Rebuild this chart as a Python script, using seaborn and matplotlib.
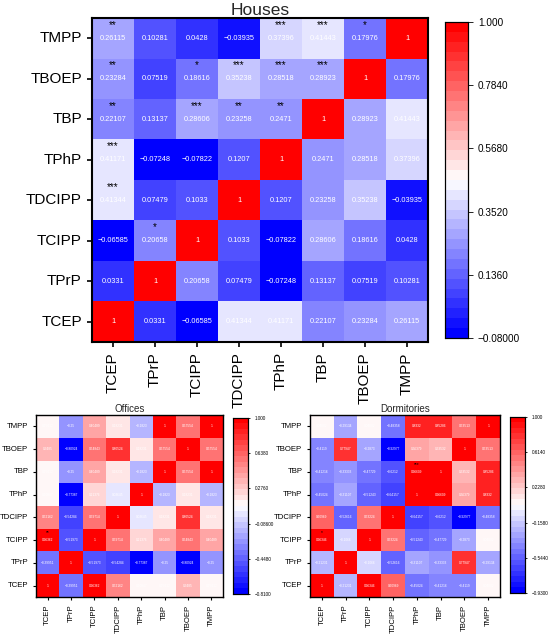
import numpy as np
import pandas as pd
import matplotlib
matplotlib.use('Agg')
import matplotlib.pyplot as plt
from matplotlib.colors import LinearSegmentedColormap
import seaborn as sns

sns.set_style('white')
plt.rcParams['font.family'] = ['Liberation Sans', 'DejaVu Sans']

# compounds, x axis order (left to right); y axis is the reverse (top = TMPP)
cols = ['TCEP', 'TPrP', 'TCIPP', 'TDCIPP', 'TPhP', 'TBP', 'TBOEP', 'TMPP']
rows = cols[::-1]

# correlation values, rows listed top to bottom as in the picture
houses = [
    [0.26115, 0.10281, 0.0428, -0.03935, 0.37396, 0.41443, 0.17976, 1],
    [0.23284, 0.07519, 0.18616, 0.35238, 0.28518, 0.28923, 1, 0.17976],
    [0.22107, 0.13137, 0.28606, 0.23258, 0.2471, 1, 0.28923, 0.41443],
    [0.41171, -0.07248, -0.07822, 0.1207, 1, 0.2471, 0.28518, 0.37396],
    [0.41344, 0.07479, 0.1033, 1, 0.1207, 0.23258, 0.35238, -0.03935],
    [-0.06585, 0.20658, 1, 0.1033, -0.07822, 0.28606, 0.18616, 0.0428],
    [0.0331, 1, 0.20658, 0.07479, -0.07248, 0.13137, 0.07519, 0.10281],
    [1, 0.0331, -0.06585, 0.41344, 0.41171, 0.22107, 0.23284, 0.26115],
]
offices = [
    [0.15012, -0.25, 0.40489, 0.18231, -0.1823, 1, 0.57554, 1],
    [0.3485, -0.80924, 0.54843, 0.80524, 0.18231, 0.57554, 1, 0.57554],
    [0.15012, -0.25, 0.40489, 0.18231, -0.1823, 1, 0.57554, 1],
    [0.10847, -0.77387, 0.21376, 0.03645, 1, -0.1823, 0.18231, -0.1823],
    [0.52162, -0.54284, 0.59714, 1, 0.03645, 0.18231, 0.80524, 0.18231],
    [0.96362, -0.51973, 1, 0.59714, 0.21376, 0.40489, 0.54843, 0.40489],
    [-0.39951, 1, -0.51973, -0.54284, -0.77387, -0.25, -0.80924, -0.25],
    [1, -0.39951, 0.96362, 0.52162, 0.10847, 0.15012, 0.3485, 0.15012],
]
dorms = [
    [0.04082, -0.29134, 0.04082, -0.48358, 0.8332, 0.85286, 0.53513, 1],
    [-0.4119, 0.77947, -0.2873, -0.92977, 0.36379, 0.33532, 1, 0.53513],
    [-0.41216, -0.33333, -0.47729, -0.6212, 0.96609, 1, 0.33532, 0.85286],
    [-0.45024, -0.31107, -0.51243, -0.64157, 1, 0.96609, 0.36379, 0.8332],
    [0.60969, -0.52616, 0.53224, 1, -0.64157, -0.6212, -0.92977, -0.48358],
    [0.96346, -0.1066, 1, 0.53224, -0.51243, -0.47729, -0.2873, 0.04082],
    [-0.21231, 1, -0.1066, -0.52616, -0.31107, -0.33333, 0.77947, -0.29134],
    [1, -0.21231, 0.96346, 0.60969, -0.45024, -0.41216, -0.4119, 0.04082],
]

# significance marks: (row name, column name, stars)
houses_stars = [
    ('TMPP', 'TCEP', '**'), ('TMPP', 'TPhP', '***'), ('TMPP', 'TBP', '***'), ('TMPP', 'TBOEP', '*'),
    ('TBOEP', 'TCEP', '**'), ('TBOEP', 'TCIPP', '*'), ('TBOEP', 'TDCIPP', '***'),
    ('TBOEP', 'TPhP', '***'), ('TBOEP', 'TBP', '***'),
    ('TBP', 'TCEP', '**'), ('TBP', 'TCIPP', '***'), ('TBP', 'TDCIPP', '**'), ('TBP', 'TPhP', '**'),
    ('TPhP', 'TCEP', '***'), ('TDCIPP', 'TCEP', '***'), ('TCIPP', 'TPrP', '*'),
]
offices_stars = [('TCIPP', 'TCEP', '**')]
dorms_stars = [('TBP', 'TPhP', '***'), ('TCIPP', 'TCEP', '*')]

houses_ticks = ['-0.08000', '0.1360', '0.3520', '0.5680', '0.7840', '1.000']
offices_ticks = ['-0.8100', '-0.4480', '-0.08600', '0.2760', '0.6380', '1.000']
dorms_ticks = ['-0.9300', '-0.5440', '-0.1580', '0.2280', '0.6140', '1.000']

cmap = LinearSegmentedColormap.from_list('bwr_steps', ['#0000ff', '#ffffff', '#ff0000'], N=32)


def fmt(v):
    return '{:.5g}'.format(v).replace('-', '\u2212')


def draw(ax, cax, values, stars, ticks, title, fs_tick, fs_annot, fs_star, fs_title, fs_cbar, lw):
    df = pd.DataFrame(values, index=rows, columns=cols)
    labels = df.map(fmt)
    vmin, vmax = float(ticks[0]), float(ticks[-1])
    sns.heatmap(df, ax=ax, cbar_ax=cax, cmap=cmap, vmin=vmin, vmax=vmax,
                annot=labels, fmt='', annot_kws={'color': 'white', 'fontsize': fs_annot})
    for r, c, s in stars:
        ax.text(cols.index(c) + 0.5, rows.index(r) + 0.17, s, ha='center', va='center',
                fontsize=fs_star, color='black')
    ax.set_title(title, fontsize=fs_title, pad=2)
    ax.tick_params(axis='both', which='both', direction='out', length=fs_tick * 0.35,
                   width=lw * 0.8, colors='black', labelsize=fs_tick, left=True, bottom=True)
    ax.set_xticklabels(cols, rotation=90)
    ax.set_yticklabels(rows, rotation=0)
    for sp in ax.spines.values():
        sp.set_visible(True)
        sp.set_color('black')
        sp.set_linewidth(lw)
    tv = [float(t) for t in ticks]
    cax.set_yticks(tv)
    cax.set_yticklabels([t.replace('-', '\u2212') for t in ticks])
    cax.tick_params(labelsize=fs_cbar, length=fs_cbar * 0.5, width=0.6, colors='black')
    for sp in cax.spines.values():
        sp.set_visible(True)
        sp.set_color('black')
        sp.set_linewidth(0.8)


fig = plt.figure(figsize=(5.5, 6.34), dpi=100)

ax_h = fig.add_axes([0.1673, 0.4606, 0.6109, 0.511])
cax_h = fig.add_axes([0.809, 0.4669, 0.0418, 0.4984])
draw(ax_h, cax_h, houses, houses_stars, houses_ticks, 'Houses',
     fs_tick=11, fs_annot=5.3, fs_star=7, fs_title=12.5, fs_cbar=7.2, lw=1.5)

ax_o = fig.add_axes([0.0655, 0.0584, 0.34, 0.287])
cax_o = fig.add_axes([0.4236, 0.0631, 0.0273, 0.2776])
draw(ax_o, cax_o, offices, offices_stars, offices_ticks, 'Offices',
     fs_tick=5.6, fs_annot=2.3, fs_star=3.5, fs_title=7, fs_cbar=3.3, lw=1.0)

ax_d = fig.add_axes([0.5636, 0.0584, 0.3455, 0.287])
cax_d = fig.add_axes([0.9273, 0.0647, 0.0273, 0.2776])
draw(ax_d, cax_d, dorms, dorms_stars, dorms_ticks, 'Dormitories',
     fs_tick=5.6, fs_annot=2.3, fs_star=3.5, fs_title=7, fs_cbar=3.3, lw=1.0)

fig.savefig('out.png', dpi=100, facecolor='white')
